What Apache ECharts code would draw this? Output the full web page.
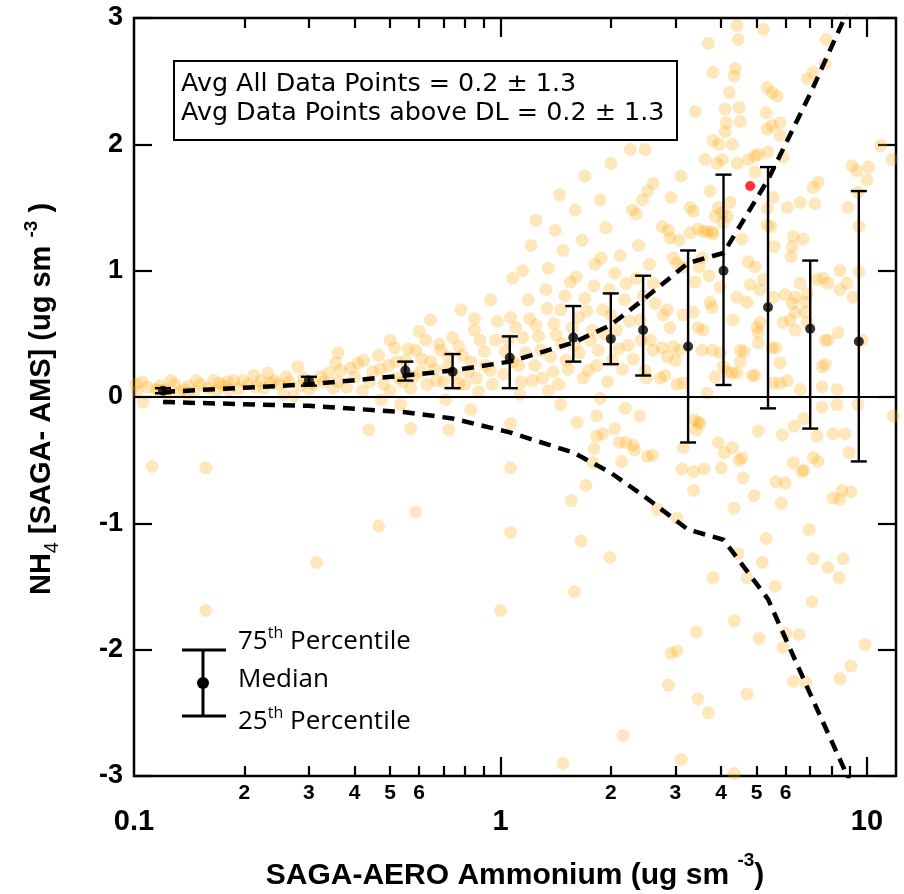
<!DOCTYPE html>
<html><head><meta charset="utf-8">
<script src="https://cdn.jsdelivr.net/npm/echarts@6/dist/echarts.min.js"></script>
<style>html,body{margin:0;padding:0;background:#fff}#c{width:904px;height:894px}</style>
</head><body><div id="c"></div>
<script>
// ---- data ----
const binX      = [0.12, 0.30, 0.55, 0.74, 1.06, 1.58, 2.0, 2.45, 3.25, 4.06, 5.37, 7.0, 9.5];
const binMedian = [0.05, 0.13, 0.21, 0.20, 0.31, 0.47, 0.46, 0.53, 0.40, 1.00, 0.71, 0.54, 0.44];
const binP25    = [0.03, 0.09, 0.13, 0.07, 0.07, 0.28, 0.26, 0.17, -0.36, 0.095, -0.09, -0.25, -0.51];
const binP75    = [0.07, 0.16, 0.28, 0.34, 0.48, 0.72, 0.82, 0.96, 1.16, 1.76, 1.82, 1.08, 1.63];
const upperCurve = [0.04, 0.10, 0.17, 0.21, 0.28, 0.43, 0.57, 0.77, 1.06, 1.14, 1.72, 2.4, 3.25];
const lowerCurve = [-0.04, -0.07, -0.12, -0.17, -0.28, -0.44, -0.60, -0.78, -1.05, -1.13, -1.60, -2.35, -3.2];
const redPoint = [4.8, 1.67];
const cloud = [
 [0.101,0.10],[0.109,0.08],[0.115,0.06],[0.121,0.055],[0.129,0.10],[0.137,0.06],[0.146,0.04],[0.148,0.13],
 [0.159,0.07],[0.165,0.13],[0.171,0.11],[0.176,0.09],[0.187,0.13],[0.198,0.13],[0.205,0.10],[0.212,0.17],
 [0.222,0.13],[0.232,0.19],[0.241,0.13],[0.256,0.02],[0.273,0.01],[0.280,0.24],[0.290,0.15],[0.309,0.10],
 [0.323,0.16],[0.340,0.19],[0.355,0.27],[0.366,0.21],[0.390,0.23],[0.408,0.27],[0.423,0.29],[0.437,-0.26],
 [0.106,-0.04],[0.117,0.055],[0.133,0.04],[0.112,-0.55],[0.157,-0.56],[0.157,-1.69],[0.315,-1.31],
 [0.102,0.04],[0.124,0.02],[0.141,0.09],[0.182,0.055],[0.193,0.07],[0.226,0.07],[0.249,0.10],[0.265,0.12],[0.30,0.06],
 [0.105,0.12],[0.118,0.09],[0.126,0.13],[0.140,0.03],[0.152,0.10],[0.168,0.05],[0.180,0.12],[0.215,0.08],
 [0.236,0.11],[0.260,0.16],[0.285,0.09],[0.33,0.12],[0.35,0.07],
 [0.448,0.20],[0.465,0.33],[0.480,0.10],[0.495,0.25],[0.514,0.39],[0.527,0.15],[0.551,0.29],[0.569,0.07],
 [0.587,0.37],[0.605,0.20],[0.625,0.45],[0.644,0.28],[0.669,0.13],[0.687,0.37],[0.713,0.23],[0.740,0.47],
 [0.769,0.10],[0.788,0.33],[0.818,0.20],[0.849,0.53],[0.871,0.04],[0.904,0.36],[0.939,0.21],[0.969,0.45],
 [0.472,-0.02],[0.534,-0.06],[0.708,-0.02],[0.829,-0.10],[0.465,-1.02],[0.587,-0.91],[0.722,-0.26],[0.569,-0.25],
 [0.78,0.69],[0.94,0.77],[0.644,0.61],
 [0.36,0.12],[0.38,0.08],[0.40,0.16],[0.42,0.05],[0.44,0.12],[0.47,0.22],[0.50,0.05],[0.52,0.28],[0.54,0.12],
 [0.56,0.38],[0.58,0.16],[0.61,0.30],[0.63,0.10],[0.66,0.22],[0.68,0.42],[0.70,0.12],[0.72,0.32],[0.75,0.18],
 [0.77,0.40],[0.80,0.10],[0.83,0.28],[0.86,0.15],[0.88,0.45],[0.91,0.25],[0.95,0.10],[0.98,0.60],[0.36,0.35],
 [0.60,0.52],[0.85,0.62],[0.50,0.45],
 [1.03,0.36],[1.065,0.63],[1.078,0.94],[1.12,0.25],[1.15,0.47],[1.19,0.77],[1.22,0.13],[1.25,0.57],[1.29,0.37],
 [1.33,0.85],[1.35,1.02],[1.39,0.20],[1.42,0.49],[1.46,0.69],[1.48,1.16],[1.51,0.29],[1.55,0.91],[1.59,0.41],
 [1.63,0.63],[1.67,1.24],[1.70,0.78],[1.74,0.21],[1.78,0.53],[1.81,1.05],[1.85,0.37],[1.90,0.69],[1.94,1.34],
 [1.98,0.85],[2.02,0.29],[2.07,0.53],[2.12,1.12],[2.18,0.77],[2.23,0.41],[2.29,1.48],[2.35,0.94],[2.41,0.61],
 [2.26,1.96],[1.87,1.56],[1.60,1.48],[1.41,1.32],[1.21,1.20],[1.13,0.02],[1.46,-0.06],[1.87,-0.01],[2.19,-0.09],
 [1.02,0.18],[1.05,0.45],[1.08,0.28],[1.10,0.55],[1.14,0.12],[1.17,0.35],[1.20,0.62],[1.24,0.25],[1.27,0.48],
 [1.30,0.15],[1.34,0.70],[1.37,0.32],[1.40,0.58],[1.44,0.10],[1.47,0.42],[1.50,0.80],[1.53,0.22],[1.57,0.55],
 [1.61,0.95],[1.64,0.35],[1.68,0.15],[1.72,0.68],[1.76,0.45],[1.80,0.88],[1.83,0.25],[1.88,1.10],[1.92,0.50],
 [1.96,0.12],[2.00,0.65],[2.05,0.98],[2.10,0.38],[2.15,0.22],[2.20,0.90],[2.25,0.60],[2.30,0.30],[2.38,1.20],
 [2.42,0.45],[2.45,0.80],[2.50,0.15],[2.55,1.05],[1.25,1.40],[1.45,1.60],[1.70,1.75],[2.00,1.85],[2.35,1.45],
 [1.15,1.0],[1.35,0.05],[1.62,-0.2],[2.05,-0.25],[2.40,-0.15],
 [1.065,-0.21],[1.065,-0.56],[1.065,-1.07],[1.0,-1.69],[1.56,-0.82],[1.66,-1.14],[1.59,-1.54],[1.71,-0.70],
 [1.99,-1.27],[2.16,-2.68],[1.48,-2.90],[1.83,-0.15],[1.83,-0.31],[1.90,-0.29],[1.80,-0.41],[1.79,-0.52],
 [2.11,-0.36],[2.20,-0.36],[2.30,-0.38],[2.32,-0.42],[2.52,-0.47],[2.60,-0.46],[2.14,-0.51],
 [2.68,-0.89],[3.03,-0.96],[3.13,-0.57],[3.36,-0.59],[3.59,-0.57],[3.15,-0.40],[3.36,-0.74],[3.38,-0.18],
 [3.46,-0.20],[3.42,-0.26],[3.50,-0.21],[3.93,-0.36],[4.08,-0.44],[4.29,-0.40],[4.48,-0.50],[4.56,-0.48],
 [4.00,-0.56],[4.59,-0.64],[4.34,-0.88],[4.92,-0.78],[5.05,-0.27],[5.87,-0.30],[6.32,-0.23],[6.73,-0.17],
 [7.31,-0.31],[8.08,-0.29],[8.71,-0.29],[8.93,-0.44],[7.13,-0.48],[7.35,-0.51],[6.29,-0.52],[6.65,-0.59],
 [6.73,-0.58],[5.65,-0.67],[5.98,-0.68],[5.83,-0.84],[8.08,-0.80],[8.44,-0.81],[8.55,-0.74],[9.04,-0.75],
 [6.95,-1.05],[5.31,-1.12],[4.45,-1.24],[5.18,-1.31],[4.71,-1.43],[3.80,-1.43],[5.61,-1.50],[7.13,-1.28],
 [7.83,-1.35],[8.61,-1.28],[8.39,-1.43],[7.08,-1.62],[4.34,-1.77],[5.08,-1.91],[6.01,-1.87],[6.53,-1.88],
 [5.90,-1.98],[9.88,-1.96],[9.04,-2.13],[8.44,-2.23],[6.29,-2.25],[6.82,-2.26],[4.71,-2.35],[3.46,-2.39],
 [3.69,-2.50],[2.92,-2.03],[3.03,-2.01],[2.87,-2.28],[3.42,-1.86],[4.34,-2.98],[3.11,-2.87],[11.8,-0.15],
 [9.45,-0.06],[8.28,-0.06],[7.54,-0.08],
 [4.42,2.94],[4.45,2.83],[5.21,2.91],[3.69,2.80],[3.80,2.57],[4.37,2.60],[4.34,2.54],[4.21,2.41],[5.34,2.45],
 [5.51,2.41],[5.69,2.38],[3.40,2.26],[4.10,2.28],[4.48,2.29],[5.31,2.25],[4.13,2.17],[4.51,2.18],[4.10,2.10],
 [5.34,2.12],[5.51,2.15],[5.79,2.17],[5.79,2.07],[3.80,2.03],[3.95,2.00],[4.29,2.00],[2.48,1.96],[4.03,1.88],
 [3.62,1.88],[3.90,1.85],[4.42,1.85],[4.74,1.88],[4.95,1.91],[5.05,1.92],[5.37,1.94],[5.90,1.90],[4.95,1.78],
 [3.11,1.75],[3.73,1.63],[2.61,1.69],[2.52,1.63],[2.44,1.56],[5.55,1.58],[6.06,1.50],[6.57,1.54],[7.21,1.53],
 [7.35,1.70],[7.13,1.66],[6.87,2.52],[7.13,2.57],[7.69,2.64],[7.73,2.83],[9.10,1.83],[9.39,1.79],[10.1,1.82],
 [10.0,1.72],[8.87,1.50],[9.45,1.62],[10.9,1.99],[11.7,1.88],[9.51,1.35],[2.92,1.58],[3.29,1.50],[3.36,1.47],
 [3.93,1.50],[4.03,1.46],[4.23,1.54],[3.85,1.43],[4.16,1.43],[4.05,1.38],[5.34,1.49],[5.34,1.36],[5.46,1.35],
 [3.46,1.33],[3.57,1.31],[3.66,1.31],[3.78,1.31],[3.80,1.29],[2.76,1.35],[2.87,1.32],[2.90,1.26],[3.07,1.24],
 [3.29,1.30],[6.29,1.27],[6.69,1.25],[6.25,1.19],[6.21,1.11],[5.58,1.19],[4.56,1.25],[4.74,1.07],[4.95,1.03],
 [2.96,1.10],[3.03,1.06],[3.15,1.03],[3.48,1.03],[3.55,1.10],[3.40,0.91],[3.71,0.96],[3.98,0.87],[4.42,0.79],
 [4.71,0.75],[4.80,0.89],[5.11,0.85],[5.21,0.93],[5.55,0.79],[5.98,0.81],[6.37,0.79],[6.87,0.82],[6.57,0.90],
 [7.31,0.93],[7.59,0.94],[7.83,0.90],[8.44,1.00],[9.51,0.99],[9.16,0.79],[8.44,0.85],[6.78,0.75],[6.25,0.74],
 [6.37,0.67],[6.17,0.61],[6.78,0.67],[6.87,0.59],[6.37,0.53],[5.90,0.59],[5.11,0.59],[5.01,0.55],[4.31,0.61],
 [3.78,0.71],[3.73,0.75],[3.46,0.55],[3.57,0.53],[3.15,0.65],[3.36,0.67],[2.85,0.69],[2.78,0.65],[2.61,0.90],
 [2.64,0.74],[2.90,0.55],[2.56,0.45],[2.61,0.37],[2.76,0.39],[2.96,0.40],[3.09,0.37],[2.85,0.32],[3.00,0.29],
 [3.55,0.37],[3.78,0.37],[3.98,0.35],[4.05,0.24],[4.16,0.20],[4.51,0.37],[4.62,0.36],[4.51,0.28],[5.05,0.43],
 [5.51,0.39],[5.65,0.39],[5.05,0.51],[5.79,0.27],[7.54,0.24],[7.69,0.26],[8.28,0.06],[7.54,0.08],[6.57,0.06],
 [5.79,0.11],[6.06,0.13],[5.55,0.11],[4.86,0.17],[4.95,0.17],[3.85,0.16],[3.66,0.03],[4.29,0.19],[4.42,0.19],
 [3.03,0.10],[2.48,0.21],[2.73,0.15],[2.81,0.17],[3.15,0.11],[9.69,0.45],[8.34,0.51],[7.83,0.45],[7.69,0.45],[8.82,0.90]
];
const yTickValues = [-3, -2, -1, 0, 1, 2, 3];
const xMajorTicks = [0.1, 1, 10];
const xMinorTicks = [0.2, 0.3, 0.4, 0.5, 0.6, 0.7, 0.8, 0.9, 2, 3, 4, 5, 6, 7, 8, 9];
const xMinorLabels = [0.2, 0.3, 0.4, 0.5, 0.6, 2, 3, 4, 5, 6];
const xRange = [0.1, 12];
const statsLines = ['Avg All Data Points = 0.2 \u00B1 1.3', 'Avg Data Points above DL = 0.2 \u00B1 1.3'];

// ---- chart ----
const chart = echarts.init(document.getElementById('c'), null, {renderer: 'canvas'});
const L = v => Math.log10(v);
const lmin = L(xRange[0]), lmax = L(xRange[1]);
const AX = "'Liberation Sans', Arial, sans-serif";
const LG = "'Open Sans', sans-serif";
function tickAxis(pos, values, len, labels, labelOpt) {
  return {
    type: 'value', position: pos, min: lmin, max: lmax, gridIndex: 0,
    axisLine: {show: false, onZero: false}, splitLine: {show: false},
    axisTick: {show: true, inside: true, length: len, customValues: values.map(L), lineStyle: {color: '#000', width: 2.2}},
    axisLabel: labels ? Object.assign({show: true, customValues: labels.map(L), color: '#000', fontFamily: AX, fontWeight: 'bold'}, labelOpt) : {show: false}
  };
}
const option = {
  animation: false,
  backgroundColor: '#fff',
  grid: {left: 134, right: 8, top: 18, bottom: 118, show: true, borderColor: '#000', borderWidth: 2.5, backgroundColor: 'transparent'},
  xAxis: [
    {type: 'log', logBase: 10, min: xRange[0], max: xRange[1], axisLine: {show: false, onZero: false}, axisTick: {show: false}, axisLabel: {show: false}, splitLine: {show: false}},
    tickAxis('bottom', [1, 10], 19, xMajorTicks, {fontSize: 29, margin: 31, formatter: v => String(Number(Math.pow(10, v).toPrecision(2)))}),
    tickAxis('bottom', xMinorTicks, 10, xMinorLabels, {fontSize: 21, margin: 7, formatter: v => String(Math.round(Math.pow(10, v) / Math.pow(10, Math.floor(v + 1e-9))))}),
    tickAxis('top', [1, 10], 19, null),
    tickAxis('top', xMinorTicks, 10, null)
  ],
  yAxis: [
    {type: 'value', min: -3, max: 3, interval: 1, position: 'left', axisLine: {show: false, onZero: false}, splitLine: {show: false},
     axisTick: {show: true, inside: true, length: 18, lineStyle: {color: '#000', width: 2.2}},
     axisLabel: {color: '#000', fontFamily: AX, fontWeight: 'bold', fontSize: 27, margin: 11, formatter: v => String(v)}},
    {type: 'value', min: -3, max: 3, interval: 1, position: 'right', axisLine: {show: false, onZero: false}, splitLine: {show: false},
     axisTick: {show: true, inside: true, length: 18, lineStyle: {color: '#000', width: 2.2}}, axisLabel: {show: false}}
  ],
  series: [
    {type: 'scatter', xAxisIndex: 0, yAxisIndex: 0, data: cloud, symbolSize: 13,
     itemStyle: {color: 'rgba(255,165,0,0.33)'}, z: 2, silent: true,
     markLine: {silent: true, symbol: 'none', label: {show: false}, lineStyle: {color: '#000', width: 2, type: 'solid'}, data: [{yAxis: 0}]}},
    {type: 'scatter', xAxisIndex: 0, yAxisIndex: 0, data: [redPoint], symbolSize: 10, itemStyle: {color: '#ff0000'}, z: 3},
    {type: 'line', xAxisIndex: 0, yAxisIndex: 0, data: binX.map((x, i) => [x, upperCurve[i]]), symbol: 'none',
     lineStyle: {color: '#000', width: 4.5, type: [12, 8]}, z: 4},
    {type: 'line', xAxisIndex: 0, yAxisIndex: 0, data: binX.map((x, i) => [x, lowerCurve[i]]), symbol: 'none',
     lineStyle: {color: '#000', width: 4.5, type: [12, 8]}, z: 4},
    {type: 'custom', xAxisIndex: 0, yAxisIndex: 0, z: 5,
     data: binX.map((x, i) => [x, binP25[i], binP75[i]]),
     encode: {x: 0, y: [1, 2]},
     renderItem: (params, api) => {
       const lo = api.coord([api.value(0), api.value(1)]);
       const hi = api.coord([api.value(0), api.value(2)]);
       const hw = 8, st = {stroke: '#000', lineWidth: 2.4};
       return {type: 'group', children: [
         {type: 'line', shape: {x1: lo[0], y1: lo[1], x2: hi[0], y2: hi[1]}, style: st},
         {type: 'line', shape: {x1: lo[0] - hw, y1: lo[1], x2: lo[0] + hw, y2: lo[1]}, style: st},
         {type: 'line', shape: {x1: hi[0] - hw, y1: hi[1], x2: hi[0] + hw, y2: hi[1]}, style: st}
       ]};
     }},
    {type: 'scatter', xAxisIndex: 0, yAxisIndex: 0, data: binX.map((x, i) => [x, binMedian[i]]), symbolSize: 10,
     itemStyle: {color: '#000'}, z: 6}
  ],
  graphic: [
    {type: 'rect', shape: {x: 174, y: 61, width: 503, height: 79}, style: {fill: '#fff', stroke: '#000', lineWidth: 2}, z: 10},
    {type: 'text', x: 181, y: 84, z: 11, style: {text: statsLines[0], fontFamily: "'DejaVu Sans'", fontSize: 25.4, fill: '#000', verticalAlign: 'middle'}},
    {type: 'text', x: 181, y: 113, z: 11, style: {text: statsLines[1], fontFamily: "'DejaVu Sans'", fontSize: 25.4, fill: '#000', verticalAlign: 'middle'}},
    // legend glyph
    {type: 'line', shape: {x1: 203, y1: 650, x2: 203, y2: 716}, style: {stroke: '#000', lineWidth: 3}, z: 10},
    {type: 'line', shape: {x1: 182, y1: 650, x2: 226, y2: 650}, style: {stroke: '#000', lineWidth: 3}, z: 10},
    {type: 'line', shape: {x1: 182, y1: 716, x2: 226, y2: 716}, style: {stroke: '#000', lineWidth: 3}, z: 10},
    {type: 'circle', shape: {cx: 203, cy: 683, r: 6}, style: {fill: '#000'}, z: 10},
    {type: 'text', x: 238, y: 640, z: 11, style: {text: '{n|75}{s|th}{n| Percentile}', verticalAlign: 'middle',
      rich: {n: {fontFamily: LG, fontSize: 26, fill: '#000', lineHeight: 30, verticalAlign: 'bottom'}, s: {fontFamily: LG, fontSize: 16, fill: '#000', lineHeight: 30, verticalAlign: 'top'}}}},
    {type: 'text', x: 238, y: 680, z: 11, style: {text: 'Median', fontFamily: LG, fontSize: 26, fill: '#000', verticalAlign: 'middle'}},
    {type: 'text', x: 238, y: 720, z: 11, style: {text: '{n|25}{s|th}{n| Percentile}', verticalAlign: 'middle',
      rich: {n: {fontFamily: LG, fontSize: 26, fill: '#000', lineHeight: 30, verticalAlign: 'bottom'}, s: {fontFamily: LG, fontSize: 16, fill: '#000', lineHeight: 30, verticalAlign: 'top'}}}},
    // axis titles
    {type: 'text', x: 515, y: 871, z: 11, style: {text: '{n|SAGA-AERO Ammonium (ug sm }{s|-3}{n|)}', align: 'center', verticalAlign: 'middle',
      rich: {n: {fontFamily: AX, fontWeight: 'bold', fontSize: 30, fill: '#000', lineHeight: 40, verticalAlign: 'bottom'}, s: {fontFamily: AX, fontWeight: 'bold', fontSize: 19, fill: '#000', lineHeight: 40, verticalAlign: 'top'}}}},
    {type: 'text', x: 42, y: 399, rotation: Math.PI / 2, z: 11, style: {text: '{n|NH}{b|4}{n| [SAGA- AMS] (ug sm }{s|-3}{n| )}', align: 'center', verticalAlign: 'middle',
      rich: {n: {fontFamily: AX, fontWeight: 'bold', fontSize: 29, fill: '#000', lineHeight: 40, verticalAlign: 'middle'},
             b: {fontFamily: AX, fontWeight: 'normal', fontSize: 20, fill: '#000', lineHeight: 40, verticalAlign: 'bottom'},
             s: {fontFamily: AX, fontWeight: 'bold', fontSize: 19, fill: '#000', lineHeight: 40, verticalAlign: 'top'}}}}
  ]
};
chart.setOption(option);
</script></body></html>
